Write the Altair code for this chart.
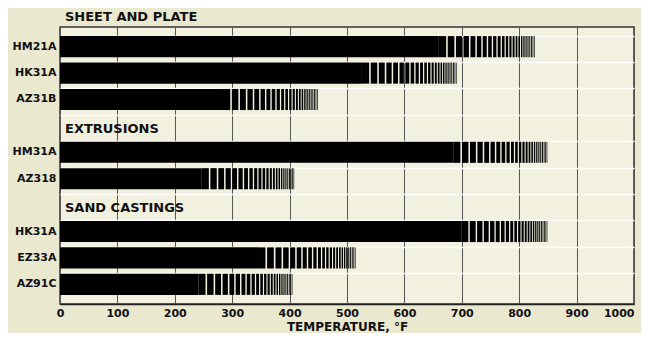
import altair as alt
import pandas as pd

# ---- data ----
row_keys = ["HM21A", "HK31A", "AZ31B", "EXTRUSIONS", "HM31A", "AZ31B_2",
            "SAND CASTINGS", "HK31A_2", "EZ33A", "AZ91C"]
row_labels = ["HM21A", "HK31A", "AZ31B", "", "HM31A", "AZ318",
              "", "HK31A", "EZ33A", "AZ91C"]
bar_keys = ["HM21A", "HK31A", "AZ31B", "HM31A", "AZ31B_2", "HK31A_2", "EZ33A", "AZ91C"]
solid_end = [660, 526, 284, 685, 247, 700, 345, 241]     # solid black part, deg F
stripe_end = [828, 692, 450, 850, 409, 850, 516, 406]    # end of fading (striped) part
headers = ["EXTRUSIONS", "SAND CASTINGS"]
x_ticks = [0, 100, 200, 300, 400, 500, 600, 700, 800, 900, 1000]

# ---- build tables ----
solid_df = pd.DataFrame({"row": bar_keys, "x0": [0] * len(bar_keys), "x1": solid_end})

N = 24
r = 0.92
weights = [r ** i for i in range(N)]
tot = sum(weights)
stripes = []
for key, s, e in zip(bar_keys, solid_end, stripe_end):
    pos = s
    L = e - s
    for i, w in enumerate(weights):
        cw = L * w / tot
        frac = 0.82 - 0.3 * i / (N - 1)
        stripes.append({"row": key, "x0": pos, "x1": pos + cw * frac})
        pos += cw
stripe_df = pd.DataFrame(stripes)
header_df = pd.DataFrame({"row": headers, "x": [0, 0]})

label_map = "{" + ",".join(f"'{k}':'{v}'" for k, v in zip(row_keys, row_labels)) + "}"

FONT = "DejaVu Sans"

y_enc = alt.Y("row:N", sort=row_keys,
              scale=alt.Scale(domain=row_keys, paddingInner=0.2, paddingOuter=0.345),
              axis=alt.Axis(title=None, labelExpr=f"{label_map}[datum.value]",
                            domain=False, ticks=False, labelFont=FONT, labelFontWeight="bold",
                            labelFontSize=11, labelColor="#111", labelPadding=4,
                            grid=True, gridColor="#ffffff", gridWidth=1.5, bandPosition=0))
x_scale = alt.Scale(domain=[0, 1000], nice=False)
x_axis = alt.Axis(values=x_ticks, format="d", title="TEMPERATURE, °F", titleFont=FONT,
                  titleFontSize=12, titleFontWeight="bold", titleColor="#111", titlePadding=3,
                  labelFont=FONT, labelFontSize=11, labelFontWeight="bold", labelColor="#111",
                  labelPadding=3, ticks=False, domainColor="#222", domainWidth=1.5,
                  labelAlign=alt.condition("datum.value == 1000", alt.value("right"), alt.value("center")),
                  grid=True, gridColor="#555", gridWidth=1)

solid = alt.Chart(solid_df).mark_bar(color="#000", cornerRadius=0).encode(
    x=alt.X("x0:Q", scale=x_scale, axis=x_axis), x2="x1:Q", y=y_enc)
stripe = alt.Chart(stripe_df).mark_bar(color="#000").encode(
    x=alt.X("x0:Q", scale=x_scale), x2="x1:Q", y=alt.Y("row:N", sort=row_keys))
head = alt.Chart(header_df).mark_text(
    align="left", baseline="middle", dx=5, dy=3, font=FONT, fontSize=13, fontWeight="bold",
    color="#111"
).encode(x=alt.X("x:Q", scale=x_scale), y=alt.Y("row:N", sort=row_keys), text="row:N")

chart = alt.layer(solid, stripe, head).properties(
    width=574, height=277,
    title=alt.TitleParams("SHEET AND PLATE", anchor="start", frame="group", dx=5, offset=3,
                          font=FONT, fontSize=13, fontWeight="bold", color="#111"),
    autosize=alt.AutoSizeParams(type="none"),
    padding={"left": 52, "top": 19, "right": 7, "bottom": 29},
    background="#ebe8d0",
).configure_view(fill="#f2f0df", stroke="#333", strokeWidth=1.5)

chart.save("out.html", embed_options={"renderer": "svg", "actions": False})
